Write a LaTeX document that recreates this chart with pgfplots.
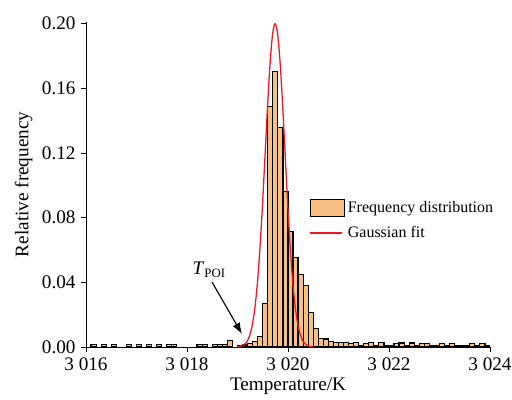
\documentclass[border=0pt]{standalone}
\usepackage{fontspec}
\setmainfont{Liberation Serif}
\usepackage{pgfplots}
\pgfplotsset{compat=1.18}
\usetikzlibrary{arrows.meta}
\definecolor{barfill}{RGB}{249,192,134}
\definecolor{fitred}{RGB}{235,25,35}
\begin{document}
\begin{tikzpicture}
\useasboundingbox (-53.75pt,-32.5pt) rectangle (266.25pt,216.875pt);
\begin{axis}[
  scale only axis,
  width=252.5pt, height=203.3pt,
  xmin=3016, xmax=3024, ymin=0, ymax=0.2012,
  axis x line*=bottom, axis y line*=left,
  x axis line style={-}, y axis line style={-},
  axis line style={line width=0.6pt},
  tick align=outside, tick pos=left,
  major tick length=3pt,
  tick style={line width=0.6pt, black},
  xtick={3016,3018,3020,3022,3024},
  xticklabels={3 016,3 018,3 020,3 022,3 024},
  ytick={0,0.04,0.08,0.12,0.16,0.20},
  yticklabels={0.00,0.04,0.08,0.12,0.16,0.20},
  ticklabel style={font=\fontsize{12}{14}\selectfont},
  xlabel={Temperature/K}, ylabel={Relative frequency},
  label style={font=\fontsize{12}{14}\selectfont},
  xlabel style={yshift=2pt},
  ylabel style={yshift=-1pt},
  legend cell align=left,
  legend style={at={(rel axis cs:0.553,0.458)}, anchor=north west, draw=none, fill=none,
    inner sep=0pt, font=\fontsize{10}{12}\selectfont, row sep=3.5pt,
    nodes={inner sep=1.8pt}},
]
\addplot[ybar, bar width=0.1, bar shift=0pt, fill=barfill, draw=black, line width=0.75pt,
  legend image code/.code={\draw[black, line width=0.75pt, fill=barfill] (0pt,-5.3pt) rectangle (21.25pt,5.3pt);}]
coordinates {
(3016.15,0.0013)(3016.35,0.0013)(3016.55,0.0013)(3016.85,0.0013)(3017.05,0.0013)
(3017.25,0.0013)(3017.45,0.0013)(3017.65,0.0013)(3017.75,0.0013)(3018.25,0.0013)
(3018.35,0.0013)(3018.55,0.0013)(3018.65,0.0013)(3018.75,0.0013)(3018.85,0.0040)
(3019.05,0.0010)(3019.15,0.0012)(3019.25,0.0020)(3019.35,0.0035)(3019.45,0.0065)
(3019.55,0.0270)(3019.65,0.1490)(3019.75,0.1705)(3019.85,0.1360)(3019.95,0.0962)
(3020.05,0.0714)(3020.15,0.0554)(3020.25,0.0450)(3020.35,0.0378)(3020.45,0.0212)
(3020.55,0.0114)(3020.65,0.0055)(3020.75,0.0050)(3020.85,0.0035)(3020.95,0.0030)
(3021.05,0.0030)(3021.15,0.0030)(3021.25,0.0020)(3021.35,0.0030)(3021.45,0.0010)
(3021.55,0.0020)(3021.65,0.0030)(3021.75,0.0010)(3021.85,0.0030)(3021.95,0.0010)
(3022.05,0.0010)(3022.15,0.0020)(3022.25,0.0025)(3022.35,0.0010)(3022.45,0.0025)
(3022.55,0.0010)(3022.65,0.0020)(3022.75,0.0020)(3022.85,0.0010)(3022.95,0.0010)
(3023.05,0.0020)(3023.15,0.0010)(3023.25,0.0020)(3023.35,0.0010)(3023.45,0.0010)
(3023.55,0.0010)(3023.65,0.0020)(3023.75,0.0010)(3023.85,0.0020)(3023.95,0.0010)
};
\addlegendentry{Frequency distribution}
\addplot[fitred, line width=0.8pt, smooth, mark=none,
  legend image code/.code={\draw[fitred, line width=0.8pt] (0pt,0pt) -- (20pt,0pt);}]
coordinates {
(3018.995,0.0001)(3019.045,0.0003)(3019.095,0.0008)(3019.145,0.0018)(3019.195,0.0037)
(3019.245,0.0075)(3019.295,0.0140)(3019.345,0.0244)(3019.395,0.0399)(3019.445,0.0612)
(3019.495,0.0879)(3019.545,0.1182)(3019.595,0.1488)(3019.645,0.1754)(3019.695,0.1935)
(3019.745,0.2000)(3019.795,0.1935)(3019.845,0.1754)(3019.895,0.1488)(3019.945,0.1182)
(3019.995,0.0879)(3020.045,0.0612)(3020.095,0.0399)(3020.145,0.0244)(3020.195,0.0140)
(3020.245,0.0075)(3020.295,0.0037)(3020.345,0.0018)(3020.395,0.0008)(3020.445,0.0003)
(3020.495,0.0001)
};
\addlegendentry{Gaussian fit}
\node[font=\fontsize{12}{14}\selectfont] at (axis cs:3018.44,0.0475) {\textit{T}\textsubscript{POI}};
\draw[-{Latex[length=7pt,width=5pt]}, line width=0.7pt] (axis cs:3018.495,0.0402) -- (axis cs:3019.089,0.008);
\end{axis}
\end{tikzpicture}
\end{document}
